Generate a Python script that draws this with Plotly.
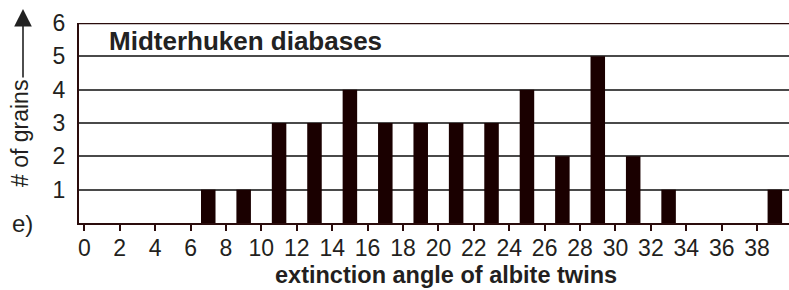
import plotly.graph_objects as go

# Data
angles = [7, 9, 11, 13, 15, 17, 19, 21, 23, 25, 27, 29, 31, 33, 39]
grains = [1, 1, 3, 3, 4, 3, 3, 3, 3, 4, 2, 5, 2, 1, 1]
x_ticks = list(range(0, 40, 2))
y_ticks = [1, 2, 3, 4, 5, 6]

TXT = '#231f20'
BAR = '#1a0000'
AX = '#2a0c0c'
FONT = 'Liberation Sans, Arial, Helvetica, sans-serif'

L, R, T, B = 79, 0, 23, 67
W, H = 789, 290
PW, PH = W - L - R, H - T - B

def px(x):
    return (x - L) / PW

def py(y):
    return (H - B - y) / PH

fig = go.Figure()
fig.add_trace(go.Bar(x=angles, y=grains, width=0.82,
                     marker=dict(color=BAR, line=dict(width=0))))

fig.update_layout(
    width=W, height=H,
    margin=dict(l=L, r=R, t=T, b=B),
    paper_bgcolor='white', plot_bgcolor='white',
    showlegend=False,
    font=dict(family=FONT, color=TXT),
    xaxis=dict(
        range=[-0.3, 39.8], tickvals=x_ticks, ticktext=[str(v) for v in x_ticks],
        showgrid=False, zeroline=False,
        showline=True, linecolor=AX, linewidth=2,
        ticks='outside', ticklen=6, tickwidth=2, tickcolor=AX,
        ticklabelstandoff=-3,
        tickfont=dict(size=23, color=TXT),
    ),
    yaxis=dict(
        range=[0, 6], tickvals=y_ticks, ticktext=[str(v) for v in y_ticks],
        showgrid=True, gridcolor='#4a4a4a', gridwidth=1.5,
        zeroline=False,
        showline=True, linecolor=AX, linewidth=2,
        ticks='', ticklabelstandoff=7,
        tickfont=dict(size=23, color=TXT),
    ),
    shapes=[
        dict(type='line', xref='paper', yref='y', x0=0, x1=1, y0=6, y1=6,
             line=dict(color=AX, width=2.5)),
    ],
    annotations=[
        dict(text='<b>Midterhuken diabases</b>', xref='paper', yref='paper',
             x=px(107), y=py(41), xanchor='left', yanchor='middle',
             showarrow=False, font=dict(size=26, color='#222222')),
        dict(text='<b>extinction angle of albite twins</b>', xref='paper', yref='paper',
             x=px(446), y=py(275), xanchor='center', yanchor='middle',
             showarrow=False, font=dict(size=23.5, color=TXT)),
        dict(text='# of grains', xref='paper', yref='paper',
             x=px(20), y=py(134), xanchor='center', yanchor='middle',
             textangle=-90, showarrow=False, font=dict(size=23, color=TXT)),
        dict(text='', xref='paper', yref='paper', x=px(23), y=py(9),
             ax=0, ay=70, axref='pixel', ayref='pixel', showarrow=True,
             arrowhead=2, arrowsize=2.2, arrowwidth=1.6, arrowcolor='#222222',
             standoff=0),
        dict(text='e)', xref='paper', yref='paper',
             x=px(22), y=py(224), xanchor='center', yanchor='middle',
             showarrow=False, font=dict(size=24, color=TXT)),
    ],
)

fig.write_html('out.html', config={'displayModeBar': False},
               post_script="document.body.style.margin='0';")
